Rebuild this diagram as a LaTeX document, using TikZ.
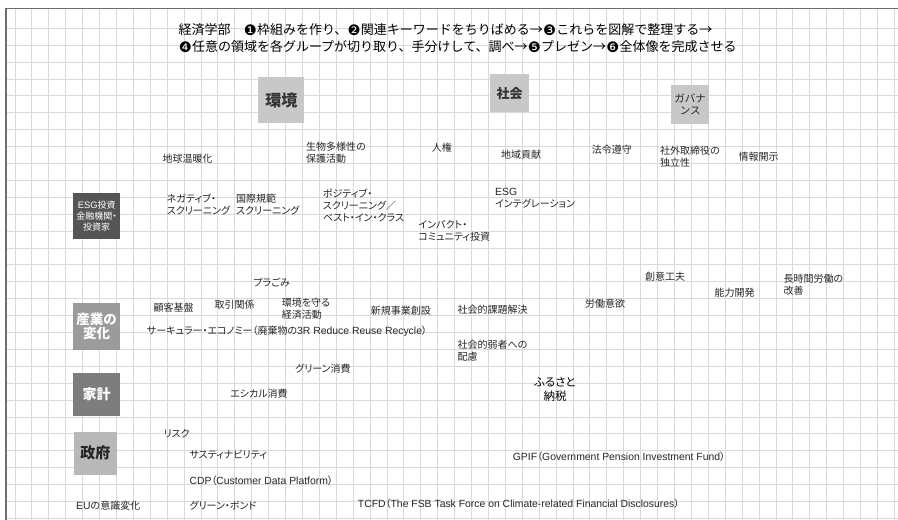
\documentclass[tikz,border=0pt]{standalone}
\usepackage{fontspec}
\setmainfont{Noto Sans CJK JP}
\newfontfamily\jpp{Noto Sans CJK JP}[RawFeature=+palt]
\newfontfamily\enfont{Liberation Sans}[Scale=1.04]
\newfontfamily\dvfont{DejaVu Sans}
\newcommand\en[1]{{\enfont #1}}
\newcommand\cnum[1]{\makebox[13.5pt]{\dvfont\fontsize{14.5}{14}\selectfont\raisebox{-0.4pt}{#1}}}
\definecolor{gridc}{HTML}{D9D9D9}
\definecolor{framec}{HTML}{6E6E6E}
\definecolor{labelc}{HTML}{262626}
\definecolor{lightbox}{HTML}{C8C8C8}
\definecolor{darkbox}{HTML}{555555}
\definecolor{midbox}{HTML}{9B9B9B}
\definecolor{kakeibox}{HTML}{7D7D7D}
\definecolor{seifubox}{HTML}{B8B8B8}
\begin{document}
\begin{tikzpicture}[x=1pt,y=-1pt,
  lbl/.style={inner sep=0pt, anchor=west, align=left, text=labelc,
    font=\jpp\fontsize{10}{12}\selectfont},
  catbox/.style={inner sep=0pt, align=center, draw=none},
  titletext/.style={inner sep=0pt, anchor=west, align=left, text=black,
    font=\fontsize{13}{16.7}\selectfont}]
\useasboundingbox (0,0) rectangle (898,520);
\fill[white] (0,0) rectangle (898,520);
% grid
\foreach \i in {0,...,52}
  \draw[gridc, line width=0.9pt] ({15+\i*16.91},8.3) -- ({15+\i*16.91},520);
\foreach \j in {0,...,29}
  \draw[gridc, line width=0.9pt] (6,{28.3+\j*16.9}) -- (898,{28.3+\j*16.9});
% frame
\draw[framec, line width=1.6pt] (6,520) -- (6,8.3) -- (898,8.3);

% title
\node[titletext] (t1) at (178.3,30) {経済学部　\cnum{❶}枠組みを作り、\cnum{❷}関連キーワードをちりばめる→\cnum{❸}これらを図解で整理する→};
\node[titletext] (t2) at (178.3,46.7) {\cnum{❹}任意の領域を各グループが切り取り、手分けして、調べ→\cnum{❺}プレゼン→\cnum{❻}全体像を完成させる};

% category boxes
\node[catbox, fill=lightbox, minimum width=46pt, minimum height=46pt, text=black!80,
  font=\bfseries\fontsize{16}{18}\selectfont] (kankyo) at (281.3,100.3) {環境};
\node[catbox, fill=lightbox, minimum width=39pt, minimum height=38.3pt, text=black!80,
  font=\bfseries\fontsize{13}{15}\selectfont] (shakai) at (509.5,93.2) {社会};
\node[catbox, fill=lightbox, minimum width=38.3pt, minimum height=39pt, text=black!85,
  font=\fontsize{10.5}{12}\selectfont] (gov) at (690.2,104.5) {ガバナ\\ンス};
\node[catbox, fill=darkbox, minimum width=46.7pt, minimum height=46.7pt, text=white,
  font=\jpp\fontsize{9}{11}\selectfont] (esg) at (96.7,216) {\en{ESG}投資\\金融機関・\\投資家};
\node[catbox, fill=midbox, minimum width=46.7pt, minimum height=47.3pt, text=white,
  font=\bfseries\fontsize{13.5}{14}\selectfont] (sangyo) at (96.7,326.3) {産業の\\変化};
\node[catbox, fill=kakeibox, minimum width=46.7pt, minimum height=43.3pt, text=white,
  font=\bfseries\fontsize{14}{16}\selectfont] (kakei) at (96.7,394.3) {家計};
\node[catbox, fill=seifubox, minimum width=42.7pt, minimum height=42.7pt, text=black!85,
  font=\bfseries\fontsize{15}{17}\selectfont] (seifu) at (95.3,453.3) {政府};

% labels
\node[lbl] (l01) at (162.3,159) {地球温暖化};
\node[lbl] (l02) at (306,152.5) {生物多様性の\\保護活動};
\node[lbl] (l03) at (431.7,147.3) {人権};
\node[lbl] (l04) at (166.7,204.2) {ネガティブ・\\スクリーニング};
\node[lbl] (l05) at (236,204.2) {国際規範\\スクリーニング};
\node[lbl] (l06) at (322.7,205.5) {ポジティブ・\\スクリーニング／\\ベスト・イン・クラス};
\node[lbl] (l07) at (418.3,230.8) {インパクト・\\コミュニティ投資};
\node[lbl] (l08) at (501,155) {地域貢献};
\node[lbl] (l09) at (591.7,150) {法令遵守};
\node[lbl] (l10) at (660,156.2) {社外取締役の\\独立性};
\node[lbl] (l11) at (738.3,156.7) {情報開示};
\node[lbl] (l12) at (495,198.5) {\en{ESG}\\インテグレーション};
\node[lbl] (l13) at (253.3,282.3) {プラごみ};
\node[lbl] (l14) at (153.3,307.7) {顧客基盤};
\node[lbl] (l15) at (214.3,304.3) {取引関係};
\node[lbl] (l16) at (281.7,309.2) {環境を守る\\経済活動};
\node[lbl] (l17) at (370.7,311) {新規事業創設};
\node[lbl] (l18) at (146.7,331) {サーキュラー・エコノミー（廃棄物の\en{3R Reduce Reuse Recycle}）};
\node[lbl] (l19) at (295,368.3) {グリーン消費};
\node[lbl] (l20) at (645,276.7) {創意工夫};
\node[lbl] (l21) at (714.3,292.3) {能力開発};
\node[lbl] (l22) at (783.3,284.7) {長時間労働の\\改善};
\node[lbl] (l23) at (585,303.3) {労働意欲};
\node[lbl] (l24) at (457.3,310) {社会的課題解決};
\node[lbl] (l25) at (457.3,350.5) {社会的弱者への\\配慮};
\node[lbl, anchor=center, align=center, text=black, font=\jpp\fontsize{11.5}{13.3}\selectfont] (l26) at (555,389.3) {ふるさと\\納税};
\node[lbl] (l27) at (230,393.3) {エシカル消費};
\node[lbl] (l28) at (163.3,433.3) {リスク};
\node[lbl] (l29) at (189.3,455) {サスティナビリティ};
\node[lbl] (l30) at (189.3,480.7) {\en{CDP}（\en{Customer Data Platform}）};
\node[lbl] (l31) at (76,506) {\en{EU}の意識変化};
\node[lbl] (l32) at (189.3,506) {グリーン・ボンド};
\node[lbl] (l33) at (357.7,504) {\en{TCFD}（\en{The FSB Task Force on Climate-related Financial Disclosures}）};
\node[lbl] (l34) at (512.7,456.7) {\en{GPIF}（\en{Government Pension Investment Fund}）};
\end{tikzpicture}
\end{document}
